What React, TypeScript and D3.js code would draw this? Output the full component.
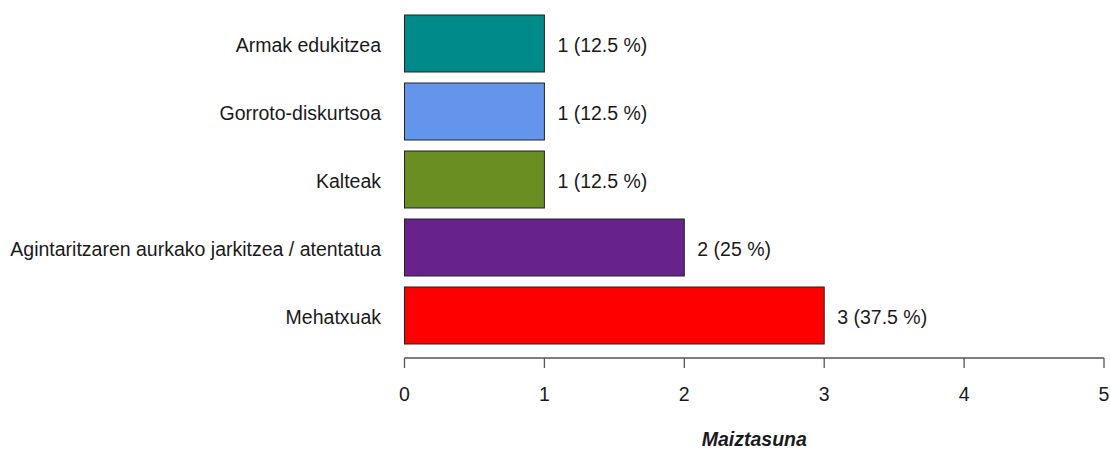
import { useEffect, useRef } from "react";
import * as d3 from "d3";

const categories = ["Armak edukitzea", "Gorroto-diskurtsoa", "Kalteak", "Agintaritzaren aurkako jarkitzea / atentatua", "Mehatxuak"];
const counts = [1, 1, 1, 2, 3];
const pctLabels = ["12.5", "12.5", "12.5", "25", "37.5"];
const colors = ["#008B8B", "#6495ED", "#6B8E23", "#68228B", "#FF0000"];
const xTicks = [0, 1, 2, 3, 4, 5];

const W = 1110, H = 449;
const FONT = "'Liberation Sans', Arial, sans-serif";
const FS = "19.5px";

export default function App() {
  const svgRef = useRef<SVGSVGElement>(null);

  useEffect(() => {
    if (!svgRef.current) return;
    const svg = d3.select(svgRef.current);
    svg.selectAll("*").remove();

    const x = d3.scaleLinear().domain([0, 5]).range([404.5, 1104]);
    const y = d3.scaleBand<string>().domain(categories).range([9.5, 349.5])
      .paddingInner(11 / 68).paddingOuter(5.5 / 68);

    const rows = categories.map((c, i) => ({ c, v: counts[i], p: pctLabels[i], col: colors[i] }));

    svg.selectAll("rect.bar").data(rows).join("rect")
      .attr("class", "bar")
      .attr("x", x(0)).attr("y", d => y(d.c)!)
      .attr("width", d => x(d.v) - x(0)).attr("height", y.bandwidth())
      .attr("fill", d => d.col).attr("stroke", "#222").attr("stroke-width", 1);

    svg.selectAll("text.cat").data(rows).join("text")
      .attr("class", "cat")
      .attr("x", 381).attr("y", d => y(d.c)! + y.bandwidth() / 2 + 8)
      .attr("text-anchor", "end").attr("font-family", FONT).attr("font-size", FS).attr("fill", "#1a1a1a")
      .text(d => d.c);

    svg.selectAll("text.val").data(rows).join("text")
      .attr("class", "val")
      .attr("x", d => x(d.v) + 13).attr("y", d => y(d.c)! + y.bandwidth() / 2 + 8)
      .attr("font-family", FONT).attr("font-size", FS).attr("fill", "#1a1a1a")
      .text(d => `${d.v} (${d.p} %)`);

    const ax = svg.append("g").attr("transform", "translate(0,358)");
    ax.append("line").attr("x1", x(0)).attr("x2", x(5)).attr("y1", 0).attr("y2", 0)
      .attr("stroke", "#555").attr("stroke-width", 1.3);
    ax.selectAll("line.tick").data(xTicks).join("line")
      .attr("class", "tick")
      .attr("x1", d => x(d)).attr("x2", d => x(d)).attr("y1", 0).attr("y2", 10)
      .attr("stroke", "#555").attr("stroke-width", 1.3);
    ax.selectAll("text").data(xTicks).join("text")
      .attr("x", d => x(d)).attr("y", 43)
      .attr("text-anchor", "middle").attr("font-family", FONT).attr("font-size", FS).attr("fill", "#1a1a1a")
      .text(d => d);

    svg.append("text").attr("x", (x(0) + x(5)) / 2).attr("y", 446)
      .attr("text-anchor", "middle").attr("font-family", FONT).attr("font-size", "19.5px")
      .attr("font-weight", "700").attr("font-style", "italic").attr("fill", "#1a1a1a")
      .text("Maiztasuna");
  }, []);

  return (
    <svg ref={svgRef} width={W} height={H}
      style={{ position: "absolute", left: 0, top: 0, background: "#fff" }} />
  );
}
